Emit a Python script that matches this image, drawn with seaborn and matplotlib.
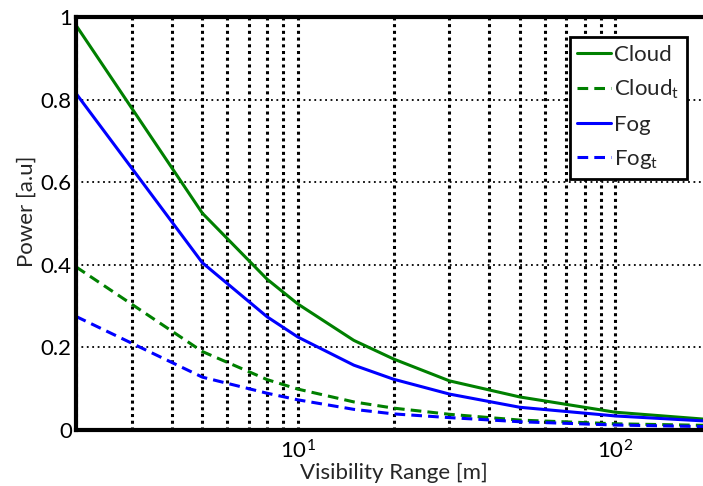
import matplotlib
matplotlib.use("Agg")
import matplotlib.pyplot as plt
import seaborn as sns
import pandas as pd
from matplotlib.ticker import LogLocator, LogFormatterSciNotation, NullFormatter

visibility = [2, 5, 8, 10, 15, 20, 30, 50, 100, 200]
cloud = [0.98, 0.525, 0.365, 0.305, 0.217, 0.172, 0.119, 0.080, 0.043, 0.025]
cloud_t = [0.395, 0.19, 0.122, 0.099, 0.068, 0.053, 0.038, 0.024, 0.015, 0.011]
fog = [0.815, 0.405, 0.274, 0.225, 0.157, 0.123, 0.087, 0.055, 0.034, 0.021]
fog_t = [0.275, 0.128, 0.089, 0.073, 0.050, 0.039, 0.030, 0.020, 0.012, 0.008]

series = [
    ("Cloud", cloud, "#008000", "-"),
    (r"Cloud$_\mathregular{t}$", cloud_t, "#008000", "--"),
    ("Fog", fog, "#0000FF", "-"),
    (r"Fog$_\mathregular{t}$", fog_t, "#0000FF", "--"),
]

sns.set_style("white")
plt.rcParams["font.family"] = ["Lato", "DejaVu Sans"]
plt.rcParams["mathtext.fontset"] = "custom"
plt.rcParams["mathtext.rm"] = "Lato"
plt.rcParams["mathtext.it"] = "Lato"

fig = plt.figure(figsize=(7.03, 4.86), dpi=100)
ax = fig.add_axes([76 / 703, 56 / 486, 635 / 703, 413 / 486])

for label, vals, color, ls in series:
    df = pd.DataFrame({"x": visibility, "y": vals})
    sns.lineplot(data=df, x="x", y="y", ax=ax, color=color, label=label, linewidth=2.2)
    l = ax.get_lines()[-1]
    if ls == "--":
        l.set_dashes((3.5, 2.0))

ax.set_xscale("log")
ax.set_xlim(2, 200)
ax.set_ylim(0, 1)
ax.xaxis.set_major_locator(LogLocator(base=10))
ax.xaxis.set_minor_locator(LogLocator(base=10, subs=range(2, 10)))
ax.xaxis.set_minor_formatter(NullFormatter())
ax.xaxis.set_major_formatter(LogFormatterSciNotation())
ax.set_yticks([0, 0.2, 0.4, 0.6, 0.8, 1.0])
ax.set_yticklabels(["0", "0.2", "0.4", "0.6", "0.8", "1"])

ax.grid(True, which="major", axis="y", color="black", linestyle=(0, (1, 2)), linewidth=1.3)
ax.grid(True, which="both", axis="x", color="black", linestyle=(0, (1, 1.2)), linewidth=2.2)
ax.set_axisbelow(True)

for side in ["left", "bottom", "top", "right"]:
    ax.spines[side].set_color("black")
    ax.spines[side].set_linewidth(3)

ax.tick_params(axis="both", which="both", direction="in", length=4, width=1.5,
               labelsize=16, colors="black", pad=3)
ax.tick_params(axis="x", which="major", pad=7)
ax.tick_params(axis="x", which="minor", length=2)

ax.set_xlabel("Visibility Range [m]", fontsize=16, labelpad=0)
ax.set_ylabel("Power [a.u]", fontsize=16, labelpad=4)
ax.yaxis.set_label_coords(-0.062, 0.53)

leg = ax.legend(loc="upper right", bbox_to_anchor=(687 / 703, 1 - 37 / 486),
                bbox_transform=fig.transFigure, borderaxespad=0, fontsize=16,
                handlelength=1.5, handletextpad=0.15, labelspacing=0.6,
                borderpad=0.35, frameon=True, fancybox=False, framealpha=1)
leg.get_frame().set_edgecolor("black")
leg.get_frame().set_linewidth(2)
for h in leg.get_lines():
    h.set_linewidth(2.2)

fig.savefig("out.png", dpi=100)
